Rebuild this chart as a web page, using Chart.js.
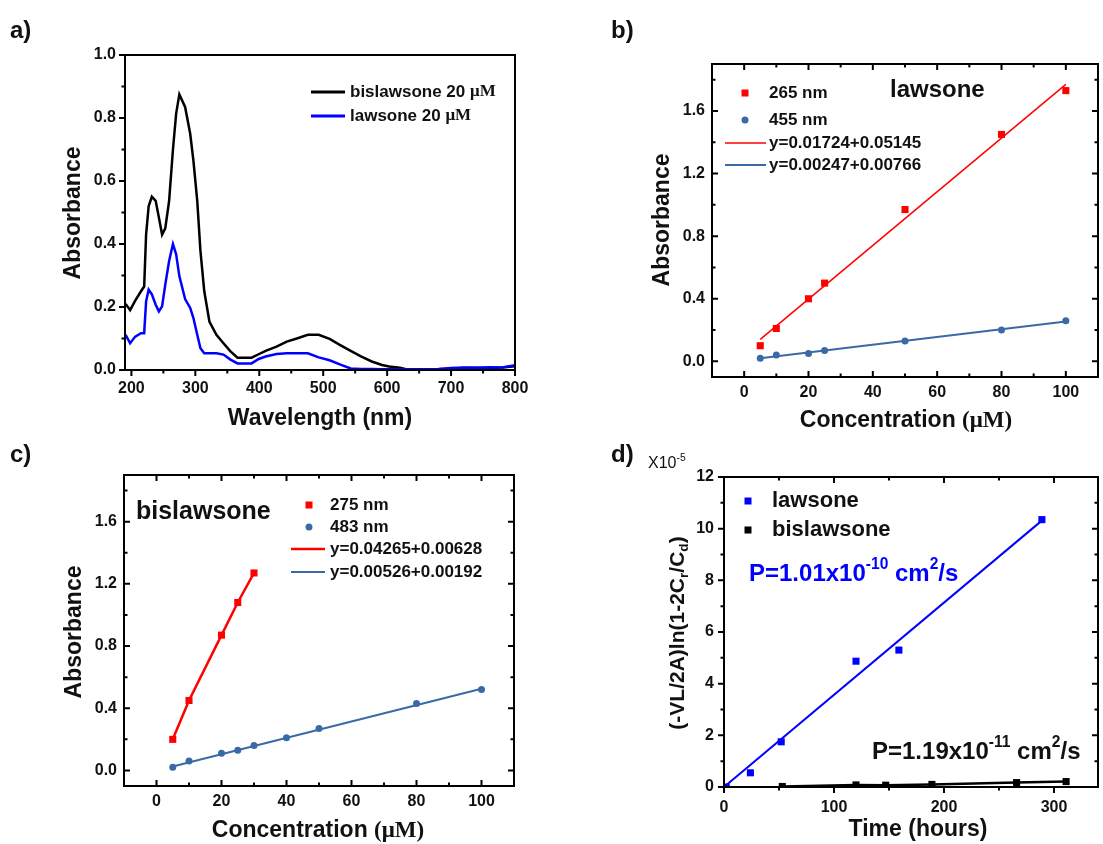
<!DOCTYPE html>
<html>
<head>
<meta charset="utf-8">
<script src="https://cdn.jsdelivr.net/npm/chart.js@4.4.1/dist/chart.umd.min.js"></script>
<style>
  body { margin: 0; background: #fff; width: 1103px; height: 844px; position: relative; overflow: hidden; }
  canvas { position: absolute; }
</style>
</head>
<body>
<canvas id="chartA" width="560" height="440" style="left:0;top:0"></canvas>
<canvas id="chartB" width="543" height="440" style="left:560px;top:0"></canvas>
<canvas id="chartC" width="560" height="404" style="left:0;top:440px"></canvas>
<canvas id="chartD" width="543" height="404" style="left:560px;top:440px"></canvas>
<script>
// a) spettri UV-vis
const wavelength = [191,198,206,215,220,223,227,232,238,243,248,253,259,265,270,275,284,292,297,303,308,314,322,333,344,355,366,377,388,399,410,427,443,460,476,493,510,526,543,559,576,592,603,620,631,650,680,700,720,740,760,780,800];
const absBislawsone = [0.21,0.19,0.22,0.25,0.265,0.43,0.52,0.55,0.537,0.484,0.43,0.45,0.537,0.70,0.814,0.875,0.835,0.75,0.665,0.537,0.378,0.25,0.154,0.112,0.085,0.059,0.039,0.039,0.039,0.05,0.061,0.074,0.09,0.101,0.112,0.112,0.099,0.08,0.061,0.043,0.027,0.016,0.011,0.007,0.002,0.001,0.002,0.004,0.006,0.007,0.006,0.008,0.012];
const absLawsone = [0.112,0.085,0.106,0.117,0.117,0.218,0.255,0.24,0.207,0.186,0.202,0.271,0.346,0.40,0.367,0.298,0.225,0.197,0.165,0.112,0.069,0.053,0.053,0.053,0.049,0.033,0.021,0.021,0.021,0.035,0.043,0.051,0.053,0.053,0.053,0.04,0.031,0.018,0.005,0.003,0.003,0.002,0.002,0.002,0.002,0.002,0.003,0.006,0.008,0.007,0.009,0.008,0.015];
const aXTicks = [200,300,400,500,600,700,800];
const aXMinor = [250,350,450,550,650,750];
const aYTicks = [0,0.2,0.4,0.6,0.8,1.0];
const aYMinor = [0.1,0.3,0.5,0.7,0.9];

// b) calibrazione lawsone
const concB = [5,10,20,25,50,80,100];
const abs265 = [0.10,0.21,0.40,0.50,0.97,1.45,1.73];
const abs455 = [0.02,0.04,0.05,0.07,0.13,0.20,0.26];
const fitX = [5,100];
const fit265 = [0.14,1.77];
const fit455 = [0.02,0.255];

// c) calibrazione bislawsone
const concC275 = [5,10,20,25,30];
const abs275 = [0.20,0.45,0.87,1.08,1.27];
const concC483 = [5,10,20,25,30,40,50,80,100];
const abs483 = [0.02,0.06,0.11,0.13,0.16,0.21,0.27,0.43,0.52];
const fit483 = [0.025,0.525];

const concTicks = [0,20,40,60,80,100];
const concMinor = [10,30,50,70,90];
const absTicks = [0,0.4,0.8,1.2,1.6];
const absMinor = [0.2,0.6,1.0,1.4,1.8];

// d) permeabilita
const timeLaw = [2,24,52,120,159,289];
const permLaw = [0.0,0.55,1.75,4.87,5.3,10.35];
const timeBis = [53,120,147,189,266,311];
const permBis = [0.02,0.08,0.07,0.10,0.17,0.21];
const fitLawX = [0,290];
const fitLawY = [0.0,10.35];
const dXTicks = [0,100,200,300];
const dXMinor = [50,150,250];
const dYTicks = [0,2,4,6,8,10,12];
const dYMinor = [1,3,5,7,9,11];

const FONT = "'Liberation Sans', Arial, sans-serif";
const SERIF = "'Liberation Serif', serif";
const INK = '#111';
const RED = '#ff0000';
const STEEL = '#3a6aa6';
const BLUE = '#0000ff';
Chart.defaults.font.family = FONT;
Chart.defaults.color = INK;

const pts = (xs, ys) => xs.map((x, i) => ({ x, y: ys[i] }));

// testo con apici / pedici
function drawRich(ctx, parts, x, y, size, weight, color, align) {
  const fontOf = (p) => `${weight} ${p[1] ? size * 0.65 : size}px ${p[2] || FONT}`;
  let total = 0;
  parts.forEach(p => { ctx.font = fontOf(p); total += ctx.measureText(p[0]).width; });
  let cx = align === 'center' ? x - total / 2 : x;
  ctx.fillStyle = color;
  ctx.textBaseline = 'middle';
  ctx.textAlign = 'left';
  parts.forEach(p => {
    ctx.font = fontOf(p);
    const dy = p[1] === 'sup' ? -size * 0.38 : p[1] === 'sub' ? size * 0.3 : 0;
    ctx.fillText(p[0], cx, y + dy);
    cx += ctx.measureText(p[0]).width;
  });
}

const framePlugin = {
  id: 'frame',
  afterDraw(chart, args, opts) {
    const { ctx, chartArea: a, scales: { x, y } } = chart;
    ctx.save();
    ctx.strokeStyle = '#000';
    ctx.lineWidth = 2;
    ctx.strokeRect(a.left, a.top, a.right - a.left, a.bottom - a.top);
    const s = opts.dir === 'out' ? 1 : -1;
    ctx.beginPath();
    const tickX = (vals, len) => vals.forEach(v => {
      const px = x.getPixelForValue(v);
      ctx.moveTo(px, a.bottom); ctx.lineTo(px, a.bottom + s * len);
      if (opts.mirror) { ctx.moveTo(px, a.top); ctx.lineTo(px, a.top + len); }
    });
    const tickY = (vals, len) => vals.forEach(v => {
      const py = y.getPixelForValue(v);
      ctx.moveTo(a.left, py); ctx.lineTo(a.left - s * len, py);
      if (opts.mirror) { ctx.moveTo(a.right, py); ctx.lineTo(a.right - len, py); }
    });
    tickX(x.ticks.map(t => t.value), 6);
    tickX(opts.minorX, 3.5);
    tickY(y.ticks.map(t => t.value), 6);
    tickY(opts.minorY, 3.5);
    ctx.stroke();

    // simboli legenda
    (opts.marks || []).forEach(m => {
      ctx.fillStyle = m.color;
      ctx.strokeStyle = m.color;
      if (m.kind === 'rect') {
        ctx.fillRect(m.x - 3.5, m.y - 3.5, 7, 7);
      } else if (m.kind === 'circle') {
        ctx.beginPath(); ctx.arc(m.x, m.y, 3.5, 0, Math.PI * 2); ctx.fill();
      } else {
        ctx.lineWidth = m.w;
        ctx.beginPath(); ctx.moveTo(m.x, m.y); ctx.lineTo(m.x2, m.y); ctx.stroke();
      }
    });

    (opts.texts || []).forEach(t => {
      ctx.save();
      ctx.translate(t.x, t.y);
      if (t.rot) ctx.rotate(-Math.PI / 2);
      drawRich(ctx, t.parts, 0, 0, t.size, t.weight || 'bold', t.color || INK, t.align || 'left');
      ctx.restore();
    });
    ctx.restore();
  }
};

function axis(min, max, ticks, fmt, which, size, pad) {
  return {
    type: 'linear', min, max,
    grid: { display: false, drawTicks: false },
    border: { display: false },
    ticks: {
      autoSkip: false, maxRotation: 0, padding: pad,
      font: { size: 16, weight: 'bold' }, color: INK,
      callback: fmt
    },
    afterBuildTicks: sc => { sc.ticks = ticks.map(v => ({ value: v })); },
    afterFit: sc => { if (which === 'x') sc.height = size; else sc.width = size; }
  };
}

function makeChart(id, datasets, pad, xAxis, yAxis, frame) {
  return new Chart(document.getElementById(id), {
    type: 'scatter',
    data: { datasets },
    options: {
      responsive: false,
      animation: false,
      layout: { padding: pad },
      plugins: { legend: { display: false }, tooltip: { enabled: false }, frame },
      scales: { x: xAxis, y: yAxis }
    },
    plugins: [framePlugin]
  });
}

const lineDs = (data, color, w) => ({ data, showLine: true, borderColor: color, borderWidth: w, pointRadius: 0, tension: 0 });
const pointDs = (data, color, style, r) => ({ data, showLine: false, pointStyle: style, pointRadius: r, backgroundColor: color, borderColor: color, borderWidth: 0 });
const int = v => String(v);
const dec1 = v => v.toFixed(1);

const absTitle = [['Absorbance', '']];
const concTitle = [['Concentration ', ''], ['(\u03bcM)', '', SERIF]];

// a)
makeChart('chartA', [
  lineDs(pts(wavelength, absLawsone), BLUE, 2.5),
  lineDs(pts(wavelength, absBislawsone), '#000', 2.5)
], { left: 75, top: 55, right: 45, bottom: 30 },
  axis(190, 800, aXTicks, int, 'x', 40, 9),
  axis(0, 1.0, aYTicks, dec1, 'y', 50, 9),
  {
    dir: 'out', mirror: false, minorX: aXMinor, minorY: aYMinor,
    marks: [
      { kind: 'line', x: 311, x2: 345, y: 92, color: '#000', w: 3 },
      { kind: 'line', x: 311, x2: 345, y: 116, color: BLUE, w: 3 }
    ],
    texts: [
      { x: 10, y: 31, parts: [['a)', '']], size: 24 },
      { x: 74, y: 213, rot: true, align: 'center', parts: absTitle, size: 23 },
      { x: 320, y: 419, align: 'center', parts: [['Wavelength (nm)', '']], size: 23 },
      { x: 350, y: 92, parts: [['bislawsone 20 ', ''], ['\u03bcM', '', SERIF]], size: 17 },
      { x: 350, y: 116, parts: [['lawsone 20 ', ''], ['\u03bcM', '', SERIF]], size: 17 }
    ]
  });

// b)
makeChart('chartB', [
  pointDs(pts(concB, abs265), RED, 'rect', 5),
  pointDs(pts(concB, abs455), STEEL, 'circle', 3.5),
  lineDs(pts(fitX, fit265), RED, 1.5),
  lineDs(pts(fitX, fit455), STEEL, 2)
], { left: 102, top: 64, right: 3, bottom: 23 },
  axis(-10, 110, concTicks, int, 'x', 40, 6),
  axis(-0.1, 1.9, absTicks, dec1, 'y', 50, 7),
  {
    dir: 'in', mirror: true, minorX: concMinor, minorY: absMinor,
    marks: [
      { kind: 'rect', x: 185, y: 93, color: RED },
      { kind: 'circle', x: 185, y: 120, color: STEEL },
      { kind: 'line', x: 165, x2: 206, y: 143, color: RED, w: 1.5 },
      { kind: 'line', x: 165, x2: 206, y: 165, color: STEEL, w: 2 }
    ],
    texts: [
      { x: 51, y: 31, parts: [['b)', '']], size: 24 },
      { x: 103, y: 220, rot: true, align: 'center', parts: absTitle, size: 23 },
      { x: 346, y: 421, align: 'center', parts: concTitle, size: 23 },
      { x: 209, y: 93, parts: [['265 nm', '']], size: 17 },
      { x: 209, y: 120, parts: [['455 nm', '']], size: 17 },
      { x: 209, y: 143, parts: [['y=0.01724+0.05145', '']], size: 17 },
      { x: 209, y: 165, parts: [['y=0.00247+0.00766', '']], size: 17 },
      { x: 330, y: 90, parts: [['lawsone', '']], size: 24 }
    ]
  });

// c)
makeChart('chartC', [
  pointDs(pts(concC275, abs275), RED, 'rect', 5),
  pointDs(pts(concC483, abs483), STEEL, 'circle', 3.5),
  lineDs(pts(concC275, abs275), RED, 2.5),
  lineDs(pts(fitX, fit483), STEEL, 2)
], { left: 74, top: 35, right: 46, bottom: 18 },
  axis(-10, 110, concTicks, int, 'x', 40, 6),
  axis(-0.1, 1.9, absTicks, dec1, 'y', 50, 7),
  {
    dir: 'in', mirror: true, minorX: concMinor, minorY: absMinor,
    marks: [
      { kind: 'rect', x: 309, y: 65, color: RED },
      { kind: 'circle', x: 309, y: 87, color: STEEL },
      { kind: 'line', x: 291, x2: 325, y: 109, color: RED, w: 2.5 },
      { kind: 'line', x: 291, x2: 325, y: 132, color: STEEL, w: 2 }
    ],
    texts: [
      { x: 10, y: 15, parts: [['c)', '']], size: 24 },
      { x: 75, y: 192, rot: true, align: 'center', parts: absTitle, size: 23 },
      { x: 318, y: 391, align: 'center', parts: concTitle, size: 23 },
      { x: 330, y: 65, parts: [['275 nm', '']], size: 17 },
      { x: 330, y: 87, parts: [['483 nm', '']], size: 17 },
      { x: 330, y: 109, parts: [['y=0.04265+0.00628', '']], size: 17 },
      { x: 330, y: 132, parts: [['y=0.00526+0.00192', '']], size: 17 },
      { x: 136, y: 72, parts: [['bislawsone', '']], size: 25 }
    ]
  });

// d)
makeChart('chartD', [
  pointDs(pts(timeLaw, permLaw), BLUE, 'rect', 5),
  pointDs(pts(timeBis, permBis), '#000', 'rect', 5),
  lineDs(pts(fitLawX, fitLawY), BLUE, 2),
  lineDs(pts(timeBis, permBis), '#000', 2.5)
], { left: 114, top: 37, right: 1, bottom: 17 },
  axis(0, 340, dXTicks, int, 'x', 40, 11),
  axis(0, 12, dYTicks, int, 'y', 50, 10),
  {
    dir: 'out', mirror: true, minorX: dXMinor, minorY: dYMinor,
    marks: [
      { kind: 'rect', x: 188, y: 61, color: BLUE },
      { kind: 'rect', x: 188, y: 90, color: '#000' }
    ],
    texts: [
      { x: 51, y: 15, parts: [['d)', '']], size: 24 },
      { x: 88, y: 24, parts: [['X10', ''], ['-5', 'sup']], size: 16, weight: 'normal' },
      { x: 118, y: 193, rot: true, align: 'center', parts: [['(-VL/2A)ln(1-2C', ''], ['r', 'sub'], ['/C', ''], ['d', 'sub'], [')', '']], size: 21 },
      { x: 358, y: 390, align: 'center', parts: [['Time (hours)', '']], size: 23 },
      { x: 212, y: 61, parts: [['lawsone', '']], size: 22 },
      { x: 212, y: 90, parts: [['bislawsone', '']], size: 22 },
      { x: 189, y: 134, parts: [['P=1.01x10', ''], ['-10', 'sup'], [' cm', ''], ['2', 'sup'], ['/s', '']], size: 24, color: BLUE },
      { x: 312, y: 312, parts: [['P=1.19x10', ''], ['-11', 'sup'], [' cm', ''], ['2', 'sup'], ['/s', '']], size: 24 }
    ]
  });
</script>
</body>
</html>
